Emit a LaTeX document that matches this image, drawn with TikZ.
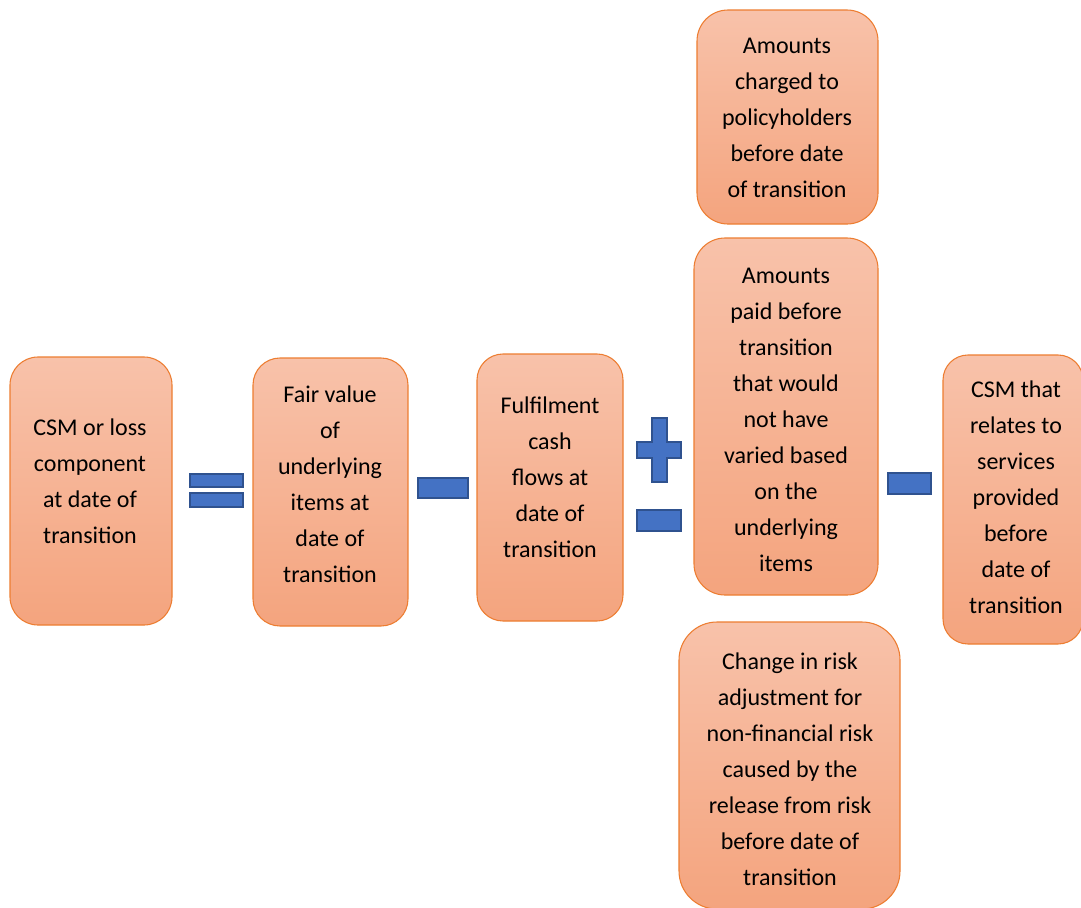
\documentclass[tikz,border=0pt]{standalone}
\usepackage{fontspec}
\setmainfont{Carlito}
\definecolor{boxtop}{RGB}{248,194,170}
\definecolor{boxbot}{RGB}{244,164,126}
\definecolor{boxline}{RGB}{237,125,49}
\definecolor{opfill}{RGB}{68,114,196}
\definecolor{opline}{RGB}{47,82,143}
\newcommand{\boxnode}[6]{%
  \node[cardbox, minimum width={(#4-#2)*0.75pt}, minimum height={(#5-#3)*0.75pt},
        rounded corners={#6*0.75pt}] (#1) at ({(#2+#4)/2},{(#3+#5)/2}) {};}
\begin{document}
\begin{tikzpicture}[x=0.75pt,y=-0.75pt,
  cardbox/.style={draw=boxline, line width=0.8pt, top color=boxtop, bottom color=boxbot,
     inner sep=0pt, outer sep=0pt},
  cardtext/.style={align=center, inner sep=0pt, font=\fontsize{18}{27}\selectfont},
  opshape/.style={fill=opfill, draw=opline, line width=1.2pt}]
\useasboundingbox (0,0) rectangle (1081,907);
\fill[white] (0,0) rectangle (1081,907);
% boxes
\boxnode{b1}{10}{357}{172}{625}{28}
\boxnode{b2}{253}{358}{408}{626}{27}
\boxnode{b3}{477}{354}{623}{621}{26}
\boxnode{b4}{697}{10}{878}{224}{31}
\boxnode{b5}{694}{238}{878}{595}{31}
\boxnode{b6}{679}{622}{900}{909}{38}
\boxnode{b7}{943}{355}{1083}{644}{25}
% texts
\node[cardtext] (t1) at (90,481) {CSM or loss\\component\\at date of\\transition};
\node[cardtext] (t2) at (330,484) {Fair value\\of\\underlying\\items at\\date of\\transition};
\node[cardtext] (t3) at (550,477.5) {Fulfilment\\cash\\flows at\\date of\\transition};
\node[cardtext] (t4) at (787,117.5) {Amounts\\charged to\\policyholders\\before date\\of transition};
\node[cardtext] (t5) at (786,419.5) {Amounts\\paid before\\transition\\that would\\not have\\varied based\\on the\\underlying\\items};
\node[cardtext] (t6) at (790,769.5) {Change in risk\\adjustment for\\non-financial risk\\caused by the\\release from risk\\before date of\\transition};
\node[cardtext] (t7) at (1016,497.5) {CSM that\\relates to\\services\\provided\\before\\date of\\transition};
% operators
\draw[opshape] (190,474) rectangle (243,487);
\draw[opshape] (190,493) rectangle (243,507);
\draw[opshape] (418,478) rectangle (468,498);
\draw[opshape] (652,418) -- (667,418) -- (667,442) -- (681,442) -- (681,458) -- (667,458)
   -- (667,482) -- (652,482) -- (652,458) -- (637,458) -- (637,442) -- (652,442) -- cycle;
\draw[opshape] (637,510) rectangle (681,531);
\draw[opshape] (888,473) rectangle (931,494);
\end{tikzpicture}
\end{document}
